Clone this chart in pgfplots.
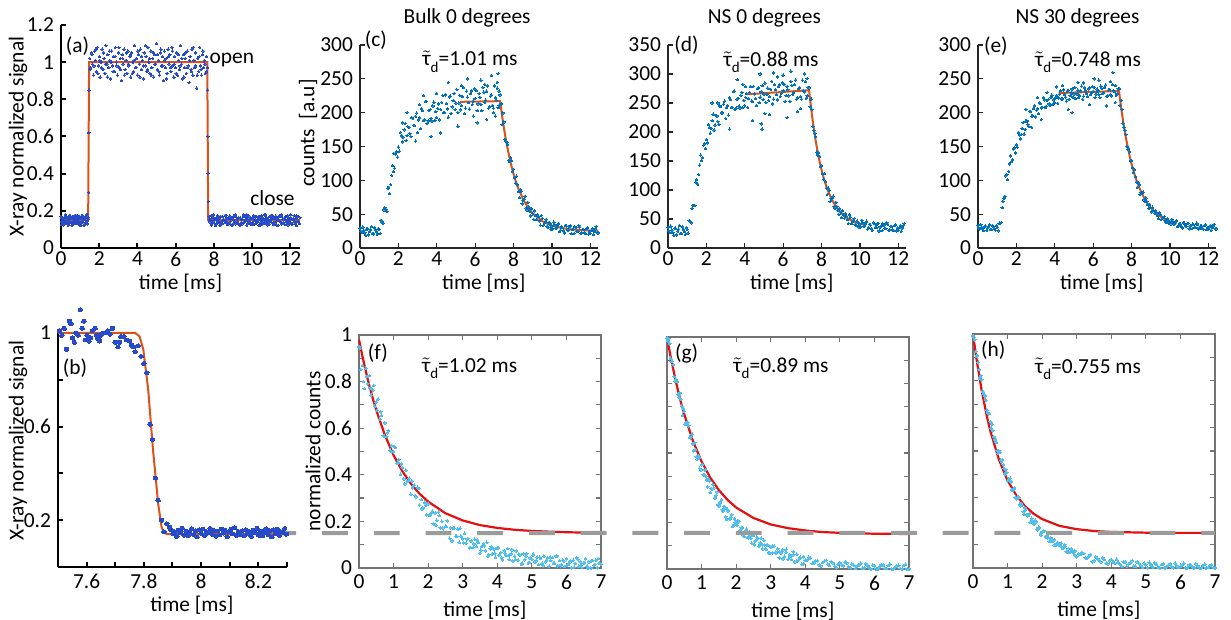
\documentclass[border=0pt]{standalone}
\usepackage{fontspec}
\setmainfont{Carlito}
\usepackage{amsmath}
\usepackage{pgfplots}
\pgfplotsset{compat=1.18}

\definecolor{dotA}{RGB}{38,74,200}
\definecolor{fitO}{RGB}{217,83,25}
\definecolor{dotC}{RGB}{0,114,189}
\definecolor{dotF}{RGB}{77,190,238}
\definecolor{fitR}{RGB}{228,16,16}
\definecolor{dashG}{RGB}{155,155,155}

\newcommand\fs{\fontsize{10.7}{12.8}\selectfont}
\newcommand\taud[1]{$\tilde{\text{τ}}$\raisebox{-0.6ex}{\fontsize{7.5}{8}\selectfont d}=#1 ms}

\pgfplotsset{
  cbase/.style={scale only axis, clip=false, tick align=inside,
    /pgf/number format/assume math mode=true,
    ticklabel style={font=\fs}, label style={font=\fs},
    major tick length=2.5pt, xlabel={time [ms]}},
  topax/.style={cbase, axis lines*=left, width=119pt, height=101.5pt,
    xmin=0, xmax=12.4, ymin=0, xtick={0,2,4,6,8,10,12},
    xticklabel style={yshift=1.5pt},
    axis line style={line width=0.6pt, black!85},
    tick style={line width=0.6pt, black!85},
    xlabel style={at={(axis description cs:0.52,-0.172)}, anchor=center}},
  botax/.style={cbase, width=121pt, height=116.5pt,
    xmin=0, xmax=7, ymin=0, ymax=1, xtick={0,1,2,3,4,5,6,7},
    ytick={0,0.1,0.2,0.3,0.4,0.5,0.6,0.7,0.8,0.9,1},
    axis line style={line width=0.6pt, black!55},
    tick style={line width=0.6pt, black!55},
    xlabel style={at={(axis description cs:0.52,-0.18)}, anchor=center}},
  dots/.style={only marks, mark=*, color=#1, mark size=0.6pt, mark options={line width=0pt}},
  cdots/.style={only marks, mark=*, color=dotF, mark size=0.7pt, mark options={line width=0pt}},
}

\begin{document}
\begin{tikzpicture}
\useasboundingbox (0,0) rectangle (615.5pt,310pt);

% (a) full shutter cycle
\begin{axis}[cbase, at={(30.5pt,186pt)}, anchor=south west,
  axis lines*=left, width=119.5pt, height=111.5pt,
  xmin=0, xmax=12.5, ymin=0, ymax=1.2,
  xtick={0,2,4,6,8,10,12}, ytick={0,0.2,0.4,0.6,0.8,1,1.2},
  xticklabel style={yshift=1.5pt},
  axis line style={line width=1.3pt, black}, tick style={line width=1pt, black},
  xlabel style={at={(axis description cs:0.5,-0.158)}, anchor=center},
  ylabel={X-ray normalized signal},
  ylabel style={at={(axis description cs:-0.18,0.5)}, anchor=center}]
\addplot[dots=dotA] coordinates {
(0,.169)(.04,.140)(.08,.153)(.12,.124)(.16,.164)(.2,.146)(.24,.178)(.28,.133)(.32,.158)(.36,.129)
(.4,.151)(.44,.174)(.48,.137)(.52,.160)(.56,.121)(.6,.167)(.64,.143)(.68,.170)(.72,.131)(.76,.155)
(.8,.149)(.84,.176)(.88,.138)(.92,.162)(.96,.126)(1,.159)(1.04,.134)(1.08,.172)(1.12,.145)(1.16,.165)
(1.2,.122)(1.24,.153)(1.28,.169)(1.32,.141)(1.36,.179)(1.4,.130)(1.44,.156)
(.02,.127)(.06,.161)(.1,.136)(.14,.156)(.18,.130)(.22,.179)(.26,.141)(.3,.169)(.34,.153)(.38,.122)
(.42,.165)(.46,.145)(.5,.172)(.54,.134)(.58,.159)(.62,.126)(.66,.162)(.7,.138)(.74,.176)(.78,.149)
(.82,.155)(.86,.131)(.9,.170)(.94,.143)(.98,.167)(1.02,.121)(1.06,.160)(1.1,.137)(1.14,.174)(1.18,.151)
(1.22,.129)(1.26,.158)(1.3,.133)(1.34,.178)(1.38,.146)(1.42,.164)
(1.45,.30)(1.46,.62)(1.465,.85)(7.67,.85)(7.68,.60)(7.69,.40)(7.70,.25)
(1.50,1.02)(1.55,0.97)(1.60,1.05)(1.65,0.99)(1.70,0.93)(1.75,1.06)(1.80,1.01)(1.85,0.95)(1.90,1.08)(1.95,0.98)
(2.00,1.03)(2.05,0.92)(2.10,1.00)(2.15,1.07)(2.20,0.96)(2.25,1.02)(2.30,0.94)(2.35,1.09)(2.40,0.99)(2.45,1.04)
(2.50,0.97)(2.55,1.01)(2.60,0.91)(2.65,1.06)(2.70,0.98)(2.75,1.03)(2.80,0.95)(2.85,1.08)(2.90,1.00)(2.95,0.93)
(3.00,1.05)(3.05,0.97)(3.10,1.02)(3.15,0.90)(3.20,1.04)(3.25,0.99)(3.30,1.07)(3.35,0.96)(3.40,1.01)(3.45,0.94)
(3.50,1.06)(3.55,0.98)(3.60,1.03)(3.65,0.92)(3.70,1.05)(3.75,1.00)(3.80,0.95)(3.85,1.09)(3.90,0.97)(3.95,1.02)
(4.00,0.93)(4.05,1.04)(4.10,0.99)(4.15,1.07)(4.20,0.96)(4.25,1.01)(4.30,0.91)(4.35,1.05)(4.40,0.98)(4.45,1.03)
(4.50,0.95)(4.55,1.08)(4.60,1.00)(4.65,0.94)(4.70,1.06)(4.75,0.97)(4.80,1.02)(4.85,0.92)(4.90,1.04)(4.95,0.99)
(5.00,1.10)(5.05,0.96)(5.10,1.01)(5.15,0.93)(5.20,1.05)(5.25,0.98)(5.30,1.03)(5.35,0.90)(5.40,1.06)(5.45,0.97)
(5.50,1.02)(5.55,0.94)(5.60,1.07)(5.65,0.99)(5.70,1.04)(5.75,0.95)(5.80,1.08)(5.85,0.98)(5.90,0.92)(5.95,1.03)
(6.00,0.97)(6.05,1.05)(6.10,0.93)(6.15,1.01)(6.20,0.96)(6.25,1.09)(6.30,0.99)(6.35,0.91)(6.40,1.04)(6.45,0.97)
(6.50,1.02)(6.55,0.94)(6.60,1.06)(6.65,0.98)(6.70,0.89)(6.75,1.03)(6.80,0.96)(6.85,1.07)(6.90,0.93)(6.95,1.01)
(7.00,0.97)(7.05,1.05)(7.10,0.86)(7.15,1.02)(7.20,0.95)(7.25,1.08)(7.30,0.98)(7.35,0.93)(7.40,1.04)(7.45,0.97)
(7.50,1.01)(7.55,0.94)(7.60,1.03)(7.65,0.97)
(1.525,0.96)(1.625,1.04)(1.725,0.98)(1.825,1.07)(1.925,0.94)(2.025,1.01)(2.125,0.97)(2.225,1.05)(2.325,0.99)(2.425,0.92)
(2.525,1.06)(2.625,1.00)(2.725,0.95)(2.825,1.03)(2.925,0.98)(3.025,1.08)(3.125,0.96)(3.225,1.02)(3.325,0.93)(3.425,1.05)
(3.525,0.99)(3.625,1.04)(3.725,0.94)(3.825,1.01)(3.925,0.97)(4.025,1.06)(4.125,0.92)(4.225,1.03)(4.325,0.98)(4.425,1.09)
(4.525,0.96)(4.625,1.02)(4.725,0.93)(4.825,1.05)(4.925,0.99)(5.025,1.04)(5.125,0.95)(5.225,1.07)(5.325,0.98)(5.425,1.01)
(5.525,0.91)(5.625,1.03)(5.725,0.97)(5.825,1.06)(5.925,0.99)(6.025,0.94)(6.125,1.04)(6.225,0.98)(6.325,1.02)(6.425,0.92)
(6.525,1.05)(6.625,0.97)(6.725,1.01)(6.825,0.95)(6.925,1.08)(7.025,0.98)(7.125,0.93)(7.225,1.03)(7.325,0.96)(7.425,1.06)
(7.525,0.99)(7.625,0.95)
(7.75,.169)(7.79,.140)(7.83,.153)(7.87,.124)(7.91,.164)(7.95,.146)(7.99,.178)(8.03,.133)(8.07,.158)(8.11,.129)
(8.15,.151)(8.19,.174)(8.23,.137)(8.27,.160)(8.31,.121)(8.35,.167)(8.39,.143)(8.43,.170)(8.47,.131)(8.51,.155)
(8.55,.149)(8.59,.176)(8.63,.138)(8.67,.162)(8.71,.126)(8.75,.159)(8.79,.134)(8.83,.172)(8.87,.145)(8.91,.165)
(8.95,.122)(8.99,.153)(9.03,.169)(9.07,.141)(9.11,.179)(9.15,.130)(9.19,.156)(9.23,.136)(9.27,.161)(9.31,.127)
(9.35,.127)(9.39,.161)(9.43,.136)(9.47,.156)(9.51,.130)(9.55,.179)(9.59,.141)(9.63,.169)(9.67,.153)(9.71,.122)
(9.75,.165)(9.79,.145)(9.83,.172)(9.87,.134)(9.91,.159)(9.95,.126)(9.99,.162)(10.03,.138)(10.07,.176)(10.11,.149)
(10.15,.155)(10.19,.131)(10.23,.170)(10.27,.143)(10.31,.167)(10.35,.121)(10.39,.160)(10.43,.137)(10.47,.174)(10.51,.151)
(10.55,.129)(10.59,.158)(10.63,.133)(10.67,.178)(10.71,.146)(10.75,.164)(10.79,.124)(10.83,.153)(10.87,.140)(10.91,.169)
(10.95,.149)(10.99,.176)(11.03,.138)(11.07,.162)(11.11,.126)(11.15,.159)(11.19,.134)(11.23,.172)(11.27,.145)(11.31,.165)
(11.35,.122)(11.39,.153)(11.43,.169)(11.47,.141)(11.51,.179)(11.55,.130)(11.59,.156)(11.63,.136)(11.67,.161)(11.71,.127)
(11.75,.169)(11.79,.140)(11.83,.153)(11.87,.124)(11.91,.164)(11.95,.146)(11.99,.178)(12.03,.133)(12.07,.158)(12.11,.129)
(12.15,.151)(12.19,.174)(12.23,.137)(12.27,.160)(12.31,.121)(12.35,.167)(12.39,.143)(12.43,.170)(12.47,.131)
(7.77,.151)(7.85,.174)(7.93,.137)(8.01,.160)(8.09,.121)(8.17,.167)(8.25,.143)(8.33,.170)(8.41,.131)(8.49,.155)
(8.57,.149)(8.65,.176)(8.73,.138)(8.81,.162)(8.89,.126)(8.97,.159)(9.05,.134)(9.13,.172)(9.21,.145)(9.29,.165)
(9.37,.122)(9.45,.153)(9.53,.169)(9.61,.141)(9.69,.179)(9.77,.130)(9.85,.156)(9.93,.136)(10.01,.161)(10.09,.127)
(10.17,.169)(10.25,.140)(10.33,.153)(10.41,.124)(10.49,.164)(10.57,.146)(10.65,.178)(10.73,.133)(10.81,.158)(10.89,.129)
(10.97,.151)(11.05,.174)(11.13,.137)(11.21,.160)(11.29,.121)(11.37,.167)(11.45,.143)(11.53,.170)(11.61,.131)(11.69,.155)
(11.77,.149)(11.85,.176)(11.93,.138)(12.01,.162)(12.09,.126)(12.17,.159)(12.25,.134)(12.33,.172)(12.41,.145)(12.49,.165)
};
\addplot[fitO, line width=1pt] coordinates {(0,0.15)(1.42,0.15)(1.47,1)(7.65,1)(7.70,0.15)(12.5,0.15)};
\node[font=\fs] at (rel axis cs:0.069,0.903) {(a)};
\node[font=\fs] at (rel axis cs:0.715,0.843) {open};
\node[font=\fs] at (rel axis cs:0.885,0.224) {close};
\end{axis}

% (c) Bulk 0 degrees
\begin{axis}[topax, at={(180pt,186pt)}, anchor=south west,
  ymax=300, ytick={0,50,100,150,200,250,300},
  ylabel={counts\ \ [a.u]},
  ylabel style={at={(axis description cs:-0.218,0.566)}, anchor=center}]
\addplot[dots=dotC] coordinates {
(0,29.3)(0.05,24.7)(0.1,22.6)(0.15,31.0)(0.2,25.8)(0.25,22.3)(0.3,18.8)(0.35,27.9)(0.4,28.3)(0.45,19.3)
(0.5,24.2)(0.55,27.0)(0.6,31.5)(0.65,21.2)(0.7,20.9)(0.75,30.0)(0.8,26.8)(0.85,23.7)(0.9,20.0)(0.95,28.6)
(1.0,27.3)(1.05,21.7)(1.1,40.9)(1.15,38.4)(1.2,36.7)(1.25,56.2)(1.3,59.6)(1.35,57.2)(1.4,54.4)(1.45,88.6)
(1.5,89.8)(1.55,80.1)(1.6,93.9)(1.65,107.2)(1.7,121.5)(1.75,112.9)(1.8,118.2)(1.85,138.7)(1.9,142.1)(1.95,134.4)
(2.0,149.2)(2.05,143.1)(2.1,170.8)(2.15,165.6)(2.2,156.8)(2.25,163.7)(2.3,174.6)(2.35,184.1)(2.4,159.0)(2.45,166.0)
(2.5,179.6)(2.55,178.4)(2.6,169.4)(2.65,164.6)(2.7,192.5)(2.75,191.8)(2.8,181.1)(2.85,181.0)(2.9,194.7)(2.95,199.4)
(3.0,170.6)(3.05,189.2)(3.1,192.8)(3.15,176.2)(3.2,205.8)(3.25,202.8)(3.3,188.8)(3.35,189.4)(3.4,216.4)(3.45,216.9)
(3.5,184.6)(3.55,187.8)(3.6,203.3)(3.65,204.4)(3.7,191.6)(3.75,187.9)(3.8,209.9)(3.85,215.6)(3.9,188.8)(3.95,201.5)
(4.0,192.6)(4.05,206.5)(4.1,213.0)(4.15,189.3)(4.2,204.8)(4.25,215.3)(4.3,225.6)(4.35,200.3)(4.4,200.1)(4.45,226.2)
(4.5,213.4)(4.55,205.7)(4.6,193.4)(4.65,223.3)(4.7,224.6)(4.75,199.1)(4.8,208.5)(4.85,217.6)(4.9,228.2)(4.95,204.3)
(5.0,214.2)(5.05,233.9)(5.1,200.2)(5.15,214.2)(5.2,225.3)(5.25,204.2)(5.3,210.4)(5.35,223.7)(5.4,236.9)(5.45,198.6)
(5.5,206.8)(5.55,231.9)(5.6,222.9)(5.65,215.2)(5.7,205.4)(5.75,228.4)(5.8,232.1)(5.85,212.1)(5.9,217.0)(5.95,235.2)
(6.0,221.0)(6.05,232.4)(6.1,202.8)(6.15,213.0)(6.2,228.3)(6.25,222.7)(6.3,212.3)(6.35,202.9)(6.4,237.2)(6.45,230.4)
(6.5,215.2)(6.55,218.6)(6.6,231.8)(6.65,239.6)(6.7,206.6)(6.75,209.4)(6.8,224.6)(6.85,226.0)(6.9,210.8)(6.95,206.8)
(7.0,239.4)(7.05,221.8)(7.1,218.7)(7.15,236.3)(7.2,207.2)(7.25,211.2)(7.3,226.2)(7.35,213.0)(7.4,182.4)(7.45,199.6)
(7.5,186.4)(7.55,160.7)(7.6,157.3)(7.65,156.1)(7.7,152.6)(7.75,129.5)(7.8,127.6)(7.85,133.6)(7.9,129.1)(7.95,112.7)
(8.0,116.4)(8.05,103.9)(8.1,95.8)(8.15,106.3)(8.2,93.3)(8.25,83.3)(8.3,74.4)(8.35,86.4)(8.4,83.6)(8.45,65.3)
(8.5,70.8)(8.55,72.4)(8.6,76.3)(8.65,59.1)(8.7,56.2)(8.75,67.2)(8.8,60.5)(8.85,54.2)(8.9,47.4)(8.95,58.1)
(9.0,51.3)(9.05,42.1)(9.1,54.8)(9.15,47.7)(9.2,42.0)(9.25,49.6)(9.3,46.1)(9.35,40.0)(9.4,33.7)(9.45,48.3)
(9.5,44.0)(9.55,33.4)(9.6,36.2)(9.65,38.9)(9.7,42.2)(9.75,32.4)(9.8,30.6)(9.85,38.0)(9.9,35.7)(9.95,27.9)
(10.0,32.7)(10.05,28.3)(10.1,38.2)(10.15,34.2)(10.2,28.8)(10.25,30.3)(10.3,33.6)(10.35,36.6)(10.4,24.3)(10.45,26.5)
(10.5,31.5)(10.55,30.1)(10.6,25.2)(10.65,22.3)(10.7,33.6)(10.75,32.5)(10.8,26.9)(10.85,26.3)(10.9,31.4)(10.95,32.6)
(11.0,21.1)(11.05,27.0)(11.1,27.8)(11.15,21.5)(11.2,31.5)(11.25,30.0)(11.3,24.6)(11.35,24.4)(11.4,33.4)(11.45,31.0)
(11.5,21.7)(11.55,22.4)(11.6,27.5)(11.65,27.6)(11.7,22.8)(11.75,21.2)(11.8,28.6)(11.85,30.4)(11.9,20.6)(11.95,24.8)
(12.0,21.5)(12.05,26.2)(12.1,28.1)(12.15,19.7)(12.2,24.8)(12.25,28.3)(12.3,31.7)(12.35,22.6)(12.4,22.2)
(2.45,200)(2.9,158)(3.3,225)(3.7,165)(4.2,170)(4.6,245)(5.1,180)(5.6,250)(5.9,195)(6.1,185)(6.3,248)(6.6,190)
(6.85,255)(6.95,200)(7.05,195)(7.15,245)(7.25,232)(5.3,240)(4.0,228)(3.1,212)(2.2,185)(1.75,140)(6.5,242)(7.2,258)
};
\addplot[fitO, line width=1pt] coordinates {(5.2,216)(7.3,217)(7.4,196)(7.5,177)(7.6,160)(7.7,145.5)(7.8,132)(7.9,119.8)
(8.0,109.3)(8.1,99.9)(8.25,88)(8.5,72)(8.75,60)(9.0,51)(9.5,39.4)(10,33)(10.5,29.5)(11,27.5)(11.5,26.4)(12,25.8)(12.4,25.5)};
\node[font=\fs] at (rel axis cs:0.45,1.133) {Bulk 0 degrees};
\node[font=\fs] at (rel axis cs:0.067,1.025) {(c)};
\node[font=\fs, anchor=base] at (rel axis cs:0.462,0.897) {\taud{1.01}};
\end{axis}

% (d) NS 0 degrees
\begin{axis}[topax, at={(334pt,186pt)}, anchor=south west,
  ymax=350, ytick={0,50,100,150,200,250,300,350}]
\addplot[dots=dotC] coordinates {
(0,35.6)(0.05,29.6)(0.1,26.9)(0.15,37.7)(0.2,31.0)(0.25,26.5)(0.3,22.1)(0.35,33.7)(0.4,34.2)(0.45,22.7)
(0.5,28.9)(0.55,32.6)(0.6,38.4)(0.65,25.1)(0.7,24.8)(0.75,36.5)(0.8,32.3)(0.85,28.4)(0.9,23.6)(0.95,34.6)
(1.0,32.4)(1.05,25.8)(1.1,47.5)(1.15,45.1)(1.2,43.4)(1.25,68.6)(1.3,73.0)(1.35,73.4)(1.4,73.5)(1.45,113.6)
(1.5,118.4)(1.55,110.0)(1.6,126.7)(1.65,142.9)(1.7,160.2)(1.75,150.5)(1.8,155.6)(1.85,177.1)(1.9,180.3)(1.95,171.6)
(2.0,187.1)(2.05,181.3)(2.1,212.5)(2.15,207.3)(2.2,198.0)(2.25,206.5)(2.3,219.4)(2.35,230.8)(2.4,203.4)(2.45,212.0)
(2.5,228.2)(2.55,227.7)(2.6,218.3)(2.65,213.3)(2.7,245.0)(2.75,244.4)(2.8,232.8)(2.85,233.0)(2.9,248.2)(2.95,253.3)
(3.0,223.6)(3.05,242.2)(3.1,245.8)(3.15,229.2)(3.2,258.8)(3.25,255.8)(3.3,241.8)(3.35,242.4)(3.4,269.4)(3.45,270.4)
(3.5,238.6)(3.55,241.3)(3.6,256.8)(3.65,257.9)(3.7,244.6)(3.75,241.4)(3.8,262.9)(3.85,268.6)(3.9,241.8)(3.95,254.5)
(4.0,245.6)(4.05,259.5)(4.1,266.0)(4.15,242.3)(4.2,257.8)(4.25,268.3)(4.3,278.6)(4.35,253.3)(4.4,252.6)(4.45,278.7)
(4.5,265.4)(4.55,257.7)(4.6,245.4)(4.65,274.8)(4.7,276.1)(4.75,250.6)(4.8,260.0)(4.85,269.1)(4.9,279.7)(4.95,255.8)
(5.0,265.2)(5.05,284.4)(5.1,250.7)(5.15,265.2)(5.2,275.8)(5.25,254.2)(5.3,260.9)(5.35,273.7)(5.4,287.4)(5.45,248.6)
(5.5,256.8)(5.55,281.4)(5.6,272.9)(5.65,264.7)(5.7,255.4)(5.75,278.4)(5.8,281.6)(5.85,261.6)(5.9,266.5)(5.95,284.7)
(6.0,271.0)(6.05,282.4)(6.1,252.8)(6.15,263.0)(6.2,278.3)(6.25,272.7)(6.3,262.3)(6.35,252.9)(6.4,287.2)(6.45,280.4)
(6.5,265.2)(6.55,268.6)(6.6,281.8)(6.65,289.6)(6.7,256.6)(6.75,259.4)(6.8,274.6)(6.85,276.0)(6.9,260.8)(6.95,256.8)
(7.0,289.4)(7.05,271.8)(7.1,269.2)(7.15,286.8)(7.2,258.2)(7.25,262.2)(7.3,277.2)(7.35,276.0)(7.4,243.4)(7.45,256.6)
(7.5,238.4)(7.55,209.2)(7.6,202.3)(7.65,198.1)(7.7,191.6)(7.75,165.5)(7.8,160.6)(7.85,164.6)(7.9,158.1)(7.95,140.2)
(8.0,142.4)(8.05,128.4)(8.1,118.8)(8.15,128.3)(8.2,114.3)(8.25,103.3)(8.3,92.4)(8.35,103.4)(8.4,99.6)(8.45,80.3)
(8.5,84.8)(8.55,85.9)(8.6,89.3)(8.65,71.6)(8.7,68.2)(8.75,78.7)(8.8,71.8)(8.85,65.2)(8.9,57.9)(8.95,68.1)
(9.0,61.6)(9.05,52.3)(9.1,64.3)(9.15,57.2)(9.2,51.5)(9.25,58.8)(9.3,55.1)(9.35,49.0)(9.4,42.6)(9.45,57.2)
(9.5,53.0)(9.55,42.2)(9.6,45.0)(9.65,47.5)(9.7,50.7)(9.75,40.8)(9.8,39.0)(9.85,46.5)(9.9,44.2)(9.95,36.3)
(10.0,41.5)(10.05,36.4)(10.1,47.8)(10.15,43.3)(10.2,37.0)(10.25,38.9)(10.3,42.8)(10.35,46.2)(10.4,32.5)(10.45,35.0)
(10.5,40.9)(10.55,39.3)(10.6,33.8)(10.65,30.5)(10.7,43.5)(10.75,42.1)(10.8,35.9)(10.85,35.1)(10.9,41.1)(10.95,42.6)
(11.0,29.4)(11.05,36.3)(11.1,37.2)(11.15,30.1)(11.2,41.4)(11.25,39.7)(11.3,33.6)(11.35,33.4)(11.4,43.7)(11.45,41.0)
(11.5,30.5)(11.55,31.4)(11.6,37.3)(11.65,37.5)(11.7,32.0)(11.75,30.2)(11.8,38.6)(11.85,40.6)(11.9,29.5)(11.95,34.4)
(12.0,30.5)(12.05,35.9)(12.1,38.2)(12.15,28.5)(12.2,34.5)(12.25,38.5)(12.3,42.3)
(2.3,250)(3.2,205)(3.6,290)(4.4,220)(4.8,300)(5.3,230)(5.7,295)(6.2,225)(6.4,305)(6.75,235)(7.1,300)
(4.05,278)(4.85,214)(4.9,205)(5.05,232)(6.0,298)(6.9,240)(7.25,292)(3.9,282)(2.6,250)(5.5,302)
};
\addplot[fitO, line width=1pt] coordinates {(4.1,265)(7.35,272)(7.4,257)(7.5,229)(7.6,205)(7.7,183.6)(7.8,165)(7.9,148.8)
(8.0,134.6)(8.1,122.2)(8.2,111.3)(8.3,101.8)(8.4,93.4)(8.5,86.2)(8.6,80)(8.7,74)(8.8,69.3)(8.9,65)(9.0,61.3)
(9.2,55)(9.4,50.4)(9.6,46.8)(9.8,44)(10.0,41.9)(10.25,40)};
\node[font=\fs] at (rel axis cs:0.405,1.133) {NS 0 degrees};
\node[font=\fs] at (rel axis cs:0.078,1.0) {(d)};
\node[font=\fs, anchor=base] at (rel axis cs:0.433,0.893) {\taud{0.88}};
\end{axis}

% (e) NS 30 degrees
\begin{axis}[topax, at={(489pt,186pt)}, anchor=south west,
  ymax=300, ytick={0,50,100,150,200,250,300}]
\addplot[dots=dotC] coordinates {
(0,33.1)(0.05,29.8)(0.1,28.3)(0.15,34.3)(0.2,30.6)(0.25,28.1)(0.3,25.6)(0.35,32.1)(0.4,32.4)(0.45,26.0)
(0.5,29.4)(0.55,31.5)(0.6,34.7)(0.65,27.3)(0.7,27.1)(0.75,33.6)(0.8,31.3)(0.85,29.1)(0.9,26.5)(0.95,32.6)
(1.0,30.2)(1.05,25.4)(1.1,36.7)(1.15,36.5)(1.2,37.6)(1.25,59.4)(1.3,69.0)(1.35,73.3)(1.4,76.4)(1.45,106.6)
(1.5,108.7)(1.55,101.0)(1.6,113.4)(1.65,124.3)(1.7,136.2)(1.75,127.4)(1.8,130.4)(1.85,146.4)(1.9,147.8)(1.95,140.4)
(2.0,152.4)(2.05,149.1)(2.1,170.3)(2.15,167.2)(2.2,161.3)(2.25,167.7)(2.3,176.9)(2.35,185.6)(2.4,168.3)(2.45,175.4)
(2.5,187.5)(2.55,187.9)(2.6,182.5)(2.65,179.8)(2.7,201.6)(2.75,202.0)(2.8,194.8)(2.85,195.5)(2.9,206.1)(2.95,210.0)
(3.0,193.8)(3.05,203.6)(3.1,206.4)(3.15,198.6)(3.2,214.4)(3.25,213.4)(3.3,206.9)(3.35,207.7)(3.4,221.7)(3.45,219.0)
(3.5,207.3)(3.55,209.4)(3.6,217.9)(3.65,219.2)(3.7,212.8)(3.75,211.2)(3.8,222.7)(3.85,225.8)(3.9,212.4)(3.95,219.0)
(4.0,214.8)(4.05,222.0)(4.1,225.5)(4.15,213.9)(4.2,221.9)(4.25,227.4)(4.3,232.8)(4.35,220.4)(4.4,220.3)(4.45,233.6)
(4.5,227.2)(4.55,223.1)(4.6,217.2)(4.65,231.9)(4.7,232.8)(4.75,219.8)(4.8,225.0)(4.85,229.3)(4.9,235.1)(4.95,222.9)
(5.0,227.6)(5.05,237.2)(5.1,220.6)(5.15,227.6)(5.2,233.4)(5.25,222.6)(5.3,225.7)(5.35,232.1)(5.4,239.2)(5.45,219.8)
(5.5,224.4)(5.55,236.7)(5.6,232.2)(5.65,228.1)(5.7,223.7)(5.75,235.2)(5.8,236.8)(5.85,226.8)(5.9,229.5)(5.95,238.6)
(6.0,231.5)(6.05,237.2)(6.1,222.4)(6.15,227.5)(6.2,234.9)(6.25,232.1)(6.3,226.9)(6.35,222.2)(6.4,239.1)(6.45,235.7)
(6.5,228.1)(6.55,229.8)(6.6,236.9)(6.65,240.8)(6.7,224.3)(6.75,225.7)(6.8,233.3)(6.85,234.0)(6.9,226.9)(6.95,224.9)
(7.0,241.2)(7.05,232.4)(7.1,231.1)(7.15,239.9)(7.2,225.6)(7.25,227.6)(7.3,235.1)(7.35,235.3)(7.4,210.9)(7.45,217.7)
(7.5,204.9)(7.55,184.5)(7.6,178.6)(7.65,174.0)(7.7,167.9)(7.75,150.2)(7.8,146.2)(7.85,147.5)(7.9,142.0)(7.95,128.8)
(8.0,129.4)(8.05,118.6)(8.1,111.2)(8.15,116.2)(8.2,105.7)(8.25,97.5)(8.3,89.6)(8.35,96.2)(8.4,93.1)(8.45,79.5)
(8.5,82.1)(8.55,81.5)(8.6,82.6)(8.65,71.1)(8.7,68.3)(8.75,73.8)(8.8,68.7)(8.85,64.0)(8.9,58.9)(8.95,64.4)
(9.0,59.7)(9.05,53.3)(9.1,60.3)(9.15,55.2)(9.2,51.2)(9.25,55.3)(9.3,52.5)(9.35,48.2)(9.4,43.7)(9.45,52.4)
(9.5,49.3)(9.55,42.2)(9.6,43.6)(9.65,44.9)(9.7,46.5)(9.75,40.0)(9.8,38.4)(9.85,42.9)(9.9,41.2)(9.95,36.0)
(10.0,39.0)(10.05,35.6)(10.1,42.5)(10.15,39.5)(10.2,35.4)(10.25,36.4)(10.3,38.6)(10.35,40.5)(10.4,31.8)(10.45,33.2)
(10.5,36.6)(10.55,35.4)(10.6,31.8)(10.65,29.7)(10.7,37.6)(10.75,36.7)(10.8,32.7)(10.85,32.2)(10.9,35.8)(10.95,36.6)
(11.0,28.3)(11.05,32.5)(11.1,33.0)(11.15,28.4)(11.2,35.4)(11.25,34.3)(11.3,30.5)(11.35,30.3)(11.4,36.7)(11.45,34.5)
(11.5,28.3)(11.55,28.7)(11.6,32.4)(11.65,32.4)(11.7,28.9)(11.75,27.7)(11.8,32.9)(11.85,34.2)(11.9,27.2)(11.95,30.2)
(12.0,27.8)(12.05,31.1)(12.1,32.6)(12.15,26.5)(12.2,30.2)(12.25,32.6)(12.3,35.0)(12.35,28.5)(12.4,28.2)
(2.5,205)(3.1,222)(3.3,190)(4.1,238)(4.7,205)(5.2,245)(5.8,212)(6.3,248)(6.7,210)(7.03,259)(7.15,215)
(4.9,200)(6.05,250)(3.6,230)(2.8,178)(5.5,244)(6.9,246)(4.4,240)
};
\addplot[fitO, line width=1pt] coordinates {(4.2,229)(7.35,232)(7.4,219.6)(7.5,198.9)(7.6,180.3)(7.7,163.7)(7.8,149.2)
(7.9,135.9)(8.0,124.4)(8.1,114)(8.2,104.8)(8.3,96.6)(8.4,89.3)(8.5,82.8)(8.6,77)(8.7,71.8)(8.8,67.2)(8.9,63.2)
(9.0,59.5)(9.2,53.4)(9.4,48.5)(9.6,44.7)(9.8,41.6)(10.0,39.2)(10.35,36.1)};
\node[font=\fs] at (rel axis cs:0.418,1.133) {NS 30 degrees};
\node[font=\fs] at (rel axis cs:0.075,0.995) {(e)};
\node[font=\fs, anchor=base] at (rel axis cs:0.462,0.893) {\taud{0.748}};
\end{axis}

% (f)
\begin{axis}[botax, at={(179.5pt,26pt)}, anchor=south west,
  yticklabels={0,,0.2,,0.4,,0.6,,0.8,,1},
  ylabel={normalized counts},
  ylabel style={at={(axis description cs:-0.19,0.5)}, anchor=center}]
\addplot[cdots] coordinates {
(0,.95)(.05,.852)(.1,.869)(.15,.770)(.2,.858)(.25,.790)(.3,.826)(.35,.741)(.4,.763)(.45,.695)
(.5,.712)(.55,.725)(.6,.639)(.65,.655)(.7,.568)(.75,.623)(.8,.564)(.85,.589)(.9,.505)(.95,.525)
(1,.498)(1.05,.517)(1.1,.450)(1.15,.466)(1.2,.402)(1.25,.431)(1.3,.383)(1.35,.420)(1.4,.371)(1.45,.385)
(1.5,.316)(1.55,.345)(1.6,.355)(1.65,.306)(1.7,.346)(1.75,.270)(1.8,.294)(1.85,.258)(1.9,.282)(1.95,.228)
(2,.275)(2.05,.227)(2.1,.237)(2.15,.190)(2.2,.237)(2.25,.205)(2.3,.240)(2.35,.173)(2.4,.200)(2.45,.155)
(2.5,.179)(2.55,.203)(2.6,.148)(2.65,.173)(2.7,.116)(2.75,.171)(2.8,.136)(2.85,.167)(2.9,.110)(2.95,.137)
(3,.126)(3.05,.149)(3.1,.107)(3.15,.127)(3.2,.087)(3.25,.116)(3.3,.088)(3.35,.123)(3.4,.093)(3.45,.109)
(3.5,.064)(3.55,.092)(3.6,.105)(3.65,.074)(3.7,.110)(3.75,.058)(3.8,.082)(3.85,.060)(3.9,.082)(3.95,.046)
(4,.086)(4.05,.055)(4.1,.066)(4.15,.035)(4.2,.074)(4.25,.054)(4.3,.084)(4.35,.037)(4.4,.061)(4.45,.031)
(4.5,.051)(4.55,.073)(4.6,.034)(4.65,.056)(4.7,.016)(4.75,.061)(4.8,.036)(4.85,.061)(4.9,.021)(4.95,.044)
(5,.037)(5.05,.059)(5.1,.026)(5.15,.046)(5.2,.015)(5.25,.041)(5.3,.020)(5.35,.050)(5.4,.027)(5.45,.044)
(5.5,.007)(5.55,.032)(5.6,.045)(5.65,.020)(5.7,.052)(5.75,.010)(5.8,.032)(5.85,.014)(5.9,.034)(5.95,.006)
(6,.040)(6.05,.015)(6.1,.026)(6.15,.001)(6.2,.034)(6.25,.019)(6.3,.044)(6.35,.007)(6.4,.027)(6.45,.002)
(6.5,.021)(6.55,.039)(6.6,.008)(6.65,.027)(6.7,.000)(6.75,.032)(6.8,.012)(6.85,.034)(6.9,.001)(6.95,.021)(7,.017)
(.025,.944)(.125,.800)(.225,.822)(.325,.773)(.425,.783)(.525,.678)(.625,.671)(.725,.566)(.825,.580)(.925,.500)
(1.025,.520)(1.125,.451)(1.225,.447)(1.325,.361)(1.425,.375)(1.525,.373)(1.625,.311)(1.725,.341)(1.825,.254)(1.925,.270)
(2.025,.226)(2.125,.244)(2.225,.184)(2.325,.225)(2.425,.172)(2.525,.178)(2.625,.128)(2.725,.171)(2.825,.137)(2.925,.170)
(3.025,.108)(3.125,.125)(3.225,.088)(3.325,.103)(3.425,.120)(3.525,.077)(3.625,.095)(3.725,.051)(3.825,.092)(3.925,.063)
(4.025,.086)(4.125,.043)(4.225,.064)(4.325,.054)(4.425,.078)(4.525,.037)(4.625,.059)(4.725,.020)(4.825,.051)(4.925,.024)
(5.025,.055)(5.125,.032)(5.225,.047)(5.325,.010)(5.425,.033)(5.525,.046)(5.625,.021)(5.725,.052)(5.825,.009)(5.925,.030)
(6.025,.012)(6.125,.032)(6.225,.003)(6.325,.038)(6.425,.012)(6.525,.023)(6.625,.000)(6.725,.031)(6.825,.015)(6.925,.041)
};
\addplot[fitR, line width=1.1pt] coordinates {(0,0.98)(0.1,0.908)(0.25,0.811)(0.4,0.727)(0.5,0.677)(0.75,0.570)
(1,0.484)(1.25,0.416)(1.5,0.362)(1.75,0.319)(2,0.285)(2.5,0.235)(3,0.204)(3.5,0.184)(4,0.172)(4.5,0.164)
(5,0.159)(5.5,0.156)(6,0.1535)(6.5,0.152)(7,0.151)};
\coordinate (dL) at (axis cs:-2.564,0.15);
\node[font=\fs] at (rel axis cs:0.078,0.923) {(f)};
\node[font=\fs, anchor=base] at (rel axis cs:0.457,0.838) {\taud{1.02}};
\end{axis}

% (g)
\begin{axis}[botax, at={(333.5pt,25.5pt)}, anchor=south west, width=121pt, height=116pt,
  yticklabels={}]
\addplot[cdots] coordinates {
(0,.995)(.05,.992)(.1,.908)(.15,.895)(.2,.830)(.25,.818)(.3,.808)(.35,.739)(.4,.732)(.45,.663)
(.5,.681)(.55,.630)(.6,.632)(.65,.568)(.7,.568)(.75,.539)(.8,.544)(.85,.485)(.9,.489)(.95,.434)
(1,.449)(1.05,.406)(1.1,.427)(1.15,.384)(1.2,.388)(1.25,.330)(1.3,.346)(1.35,.349)(1.4,.307)(1.45,.333)
(1.5,.272)(1.55,.286)(1.6,.255)(1.65,.269)(1.7,.225)(1.75,.257)(1.8,.218)(1.85,.222)(1.9,.184)(1.95,.216)
(2,.191)(2.05,.209)(2.1,.165)(2.15,.178)(2.2,.147)(2.25,.159)(2.3,.172)(2.35,.135)(2.4,.148)(2.45,.111)
(2.5,.144)(2.55,.119)(2.6,.137)(2.65,.099)(2.7,.114)(2.75,.105)(2.8,.124)(2.85,.088)(2.9,.104)(2.95,.070)
(3,.094)(3.05,.070)(3.1,.098)(3.15,.072)(3.2,.087)(3.25,.048)(3.3,.070)(3.35,.082)(3.4,.055)(3.45,.085)
(3.5,.041)(3.55,.061)(3.6,.042)(3.65,.061)(3.7,.031)(3.75,.064)(3.8,.038)(3.85,.048)(3.9,.021)(3.95,.053)
(4,.038)(4.1,.051)(4.2,.025)(4.3,.035)(4.4,.018)(4.5,.028)(4.6,.037)(4.7,.016)(4.8,.027)(4.9,.005)
(5,.027)(5.1,.014)(5.2,.026)(5.3,.006)(5.4,.016)(5.5,.012)(5.6,.025)(5.7,.005)(5.8,.016)(5.9,.000)
(6,.013)(6.1,.001)(6.2,.019)(6.3,.004)(6.4,.015)(6.5,.000)(6.6,.008)(6.7,.016)(6.8,.000)(6.9,.020)(7,.000)
(.025,.983)(.075,.970)(.125,.894)(.175,.881)(.225,.810)(.275,.809)(.325,.752)(.375,.759)(.425,.702)(.475,.693)
(.525,.623)(.575,.628)(.625,.618)(.675,.566)(.725,.581)(.775,.510)(.825,.514)(.875,.474)(.925,.479)(.975,.427)
(1.025,.450)(1.075,.404)(1.125,.400)(1.175,.355)(1.225,.380)(1.275,.347)(1.325,.365)(1.375,.306)(1.425,.318)(1.475,.277)
(1.525,.287)(1.575,.298)(1.625,.250)(1.675,.263)(1.725,.213)(1.775,.250)(1.825,.216)(1.875,.234)(1.925,.187)(1.975,.202)
(2.025,.189)(2.075,.204)(2.125,.165)(2.175,.178)(2.225,.141)(2.275,.162)(2.325,.136)(2.375,.161)(2.425,.132)(2.475,.144)
(2.525,.104)(2.575,.124)(2.625,.133)(2.675,.104)(2.725,.132)(2.775,.087)(2.825,.105)(2.875,.084)(2.925,.101)(2.975,.069)
(3.05,.099)(3.15,.068)(3.25,.074)(3.35,.044)(3.45,.073)(3.55,.053)(3.65,.075)(3.75,.034)(3.85,.051)(3.95,.023)
(4.05,.039)(4.15,.047)(4.25,.026)(4.35,.035)(4.45,.013)(4.55,.034)(4.65,.021)(4.75,.032)(4.85,.012)(4.95,.021)
(5.05,.017)(5.15,.030)(5.25,.010)(5.35,.021)(5.45,.002)(5.55,.017)(5.65,.004)(5.75,.022)(5.85,.007)(5.95,.017)
(6.05,.000)(6.15,.010)(6.25,.018)(6.35,.002)(6.45,.021)(6.55,.000)(6.65,.014)(6.75,.002)(6.85,.015)(6.95,.000)
};
\addplot[fitR, line width=1.1pt] coordinates {(0,1)(0.1,0.919)(0.25,0.812)(0.4,0.720)(0.5,0.666)(0.75,0.552)
(1,0.463)(1.25,0.394)(1.5,0.340)(1.75,0.298)(2,0.265)(2.5,0.220)(3,0.192)(3.5,0.176)(4,0.166)(4.5,0.159)
(5,0.156)(6,0.152)(7,0.151)};
\node[font=\fs] at (rel axis cs:0.081,0.93) {(g)};
\node[font=\fs, anchor=base] at (rel axis cs:0.471,0.846) {\taud{0.89}};
\end{axis}

% (h)
\begin{axis}[botax, at={(486.5pt,26pt)}, anchor=south west, width=121pt, height=117pt,
  yticklabels={}]
\addplot[cdots] coordinates {
(0,.993)(.05,.975)(.1,.905)(.15,.879)(.2,.813)(.25,.804)(.3,.752)(.35,.736)(.4,.675)(.45,.659)
(.5,.625)(.55,.614)(.6,.562)(.65,.551)(.7,.502)(.75,.501)(.8,.461)(.85,.464)(.9,.425)(.95,.420)
(1,.373)(1.05,.375)(1.1,.369)(1.15,.333)(1.2,.343)(1.25,.296)(1.3,.299)(1.35,.272)(1.4,.276)(1.45,.241)
(1.5,.257)(1.55,.226)(1.6,.225)(1.65,.195)(1.7,.212)(1.75,.192)(1.8,.204)(1.85,.165)(1.9,.174)(1.95,.147)
(2,.155)(2.05,.159)(2.1,.133)(2.15,.139)(2.2,.113)(2.25,.130)(2.3,.114)(2.35,.121)(2.4,.097)(2.45,.104)
(2.5,.096)(2.55,.106)(2.6,.083)(2.65,.091)(2.7,.069)(2.75,.082)(2.8,.066)(2.85,.082)(2.9,.065)(2.95,.073)
(3,.048)(3.1,.058)(3.2,.062)(3.3,.043)(3.4,.058)(3.5,.031)(3.6,.040)(3.7,.027)(3.8,.037)(3.9,.018)
(4,.036)(4.1,.020)(4.2,.025)(4.3,.008)(4.4,.026)(4.5,.017)(4.6,.031)(4.7,.007)(4.8,.019)(4.9,.003)
(5,.014)(5.1,.024)(5.2,.004)(5.3,.016)(5.4,.000)(5.5,.018)(5.6,.006)(5.7,.018)(5.8,.000)(5.9,.010)
(6,.006)(6.1,.020)(6.2,.001)(6.3,.012)(6.4,.000)(6.5,.010)(6.6,.000)(6.7,.016)(6.8,.002)(6.9,.013)(7,.000)
(.025,.987)(.075,.925)(.125,.907)(.175,.848)(.225,.822)(.275,.756)(.325,.741)(.375,.717)(.425,.665)(.475,.660)
(.525,.598)(.575,.587)(.625,.547)(.675,.537)(.725,.491)(.775,.494)(.825,.453)(.875,.441)(.925,.401)(.975,.408)
(1.025,.380)(1.075,.383)(1.125,.335)(1.175,.336)(1.225,.302)(1.275,.302)(1.325,.303)(1.375,.265)(1.425,.269)(1.475,.230)
(1.525,.249)(1.575,.223)(1.625,.231)(1.675,.194)(1.725,.201)(1.775,.188)(1.825,.197)(1.875,.164)(1.925,.172)(1.975,.141)
(2.05,.156)(2.15,.129)(2.25,.124)(2.35,.098)(2.45,.109)(2.55,.091)(2.65,.099)(2.75,.069)(2.85,.075)(2.95,.054)
(3.05,.061)(3.15,.066)(3.25,.043)(3.35,.051)(3.45,.027)(3.55,.047)(3.65,.033)(3.75,.043)(3.85,.020)(3.95,.030)
(4.05,.025)(4.15,.037)(4.25,.016)(4.35,.026)(4.45,.007)(4.55,.021)(4.65,.008)(4.75,.026)(4.85,.011)(4.95,.021)
(5.05,.001)(5.15,.013)(5.25,.023)(5.35,.004)(5.45,.015)(5.55,.000)(5.65,.012)(5.75,.005)(5.85,.021)(5.95,.002)
(6.05,.013)(6.15,.000)(6.25,.013)(6.35,.005)(6.45,.018)(6.55,.000)(6.65,.011)(6.75,.000)(6.85,.011)(6.95,.002)
};
\addplot[fitR, line width=1.1pt] coordinates {(0,1)(0.1,0.894)(0.25,0.759)(0.4,0.649)(0.5,0.586)(0.75,0.463)
(1,0.374)(1.25,0.311)(1.5,0.265)(1.75,0.232)(2,0.209)(2.5,0.180)(3,0.166)(3.5,0.158)(4,0.154)(5,0.151)
(6,0.150)(7,0.150)};
\coordinate (dR) at (axis cs:7,0.15);
\node[font=\fs] at (rel axis cs:0.084,0.932) {(h)};
\node[font=\fs, anchor=base] at (rel axis cs:0.475,0.832) {\taud{0.755}};
\end{axis}

\draw[dashG, line width=2pt, dash pattern=on 12.93pt off 12.93pt] (dL) -- (dR);

% (b) zoom on the closing edge
\begin{axis}[cbase, at={(29pt,26.5pt)}, anchor=south west,
  axis lines*=left, width=114.5pt, height=117pt,
  xmin=7.5, xmax=8.3, ymin=0, ymax=1,
  xtick={7.5,7.6,7.7,7.8,7.9,8,8.1,8.2,8.3},
  xticklabels={,7.6,,7.8,,8,,8.2,},
  ytick={0.2,0.4,0.6,0.8,1}, yticklabels={0.2,,0.6,,1},
  axis line style={line width=1.3pt, black}, tick style={line width=1pt, black},
  xlabel style={at={(axis description cs:0.585,-0.162)}, anchor=center},
  ylabel={X-ray normalized signal},
  ylabel style={at={(axis description cs:-0.175,0.54)}, anchor=center}]
\addplot[fitO, line width=1pt] coordinates {(7.5,1)(7.77,1)(7.785,0.985)(7.798,0.93)(7.815,0.76)(7.832,0.5)
(7.85,0.27)(7.862,0.17)(7.872,0.145)(7.885,0.14)(8.3,0.14)};
\addplot[only marks, mark=*, color=dotA, mark size=1.15pt, mark options={line width=0pt, yscale=0.85}] coordinates {
(7.505,1.01)(7.513,0.99)(7.522,1.02)(7.530,0.93)(7.540,1.05)(7.545,1.04)(7.551,0.98)(7.557,0.96)(7.563,1.00)(7.570,0.99)
(7.578,1.10)(7.584,1.02)(7.590,1.05)(7.596,0.97)(7.602,0.99)(7.608,0.965)(7.614,0.98)(7.620,1.01)(7.630,1.02)(7.635,0.99)
(7.640,0.975)(7.645,0.965)(7.650,0.99)(7.656,1.00)(7.665,1.00)(7.674,1.01)(7.682,0.995)(7.690,1.02)(7.700,0.96)(7.710,0.94)
(7.715,0.96)(7.720,0.985)(7.730,0.985)(7.740,0.97)(7.750,0.965)(7.757,0.95)(7.763,0.94)(7.770,0.92)(7.780,0.945)(7.790,0.90)
(7.800,0.87)(7.810,0.83)(7.822,0.61)(7.830,0.545)(7.840,0.38)(7.850,0.285)(7.862,0.20)(7.870,0.15)(7.880,0.185)(7.890,0.17)
(7.895,.160)(7.902,.141)(7.908,.150)(7.915,.131)(7.921,.157)(7.928,.146)(7.934,.166)(7.941,.136)(7.947,.153)(7.954,.134)
(7.960,.149)(7.967,.164)(7.973,.139)(7.980,.155)(7.986,.128)(7.993,.159)(8.000,.144)(8.006,.162)(8.013,.135)(8.019,.151)
(8.026,.148)(8.032,.165)(8.039,.140)(8.045,.156)(8.052,.132)(8.058,.154)(8.065,.137)(8.071,.162)(8.078,.145)(8.084,.158)
(8.091,.130)(8.097,.150)(8.104,.161)(8.110,.142)(8.117,.167)(8.123,.135)(8.130,.152)(8.136,.139)(8.143,.155)(8.149,.133)
(8.156,.160)(8.162,.141)(8.169,.150)(8.175,.131)(8.182,.157)(8.188,.146)(8.195,.166)(8.201,.136)(8.208,.153)(8.214,.134)
(8.221,.149)(8.227,.164)(8.234,.139)(8.240,.155)(8.247,.128)(8.253,.159)(8.260,.144)(8.266,.162)(8.273,.135)(8.279,.151)
(8.286,.148)(8.292,.165)(8.298,.140)
};
\node[font=\fs] at (rel axis cs:0.074,0.85) {(b)};
\end{axis}
\end{tikzpicture}
\end{document}
